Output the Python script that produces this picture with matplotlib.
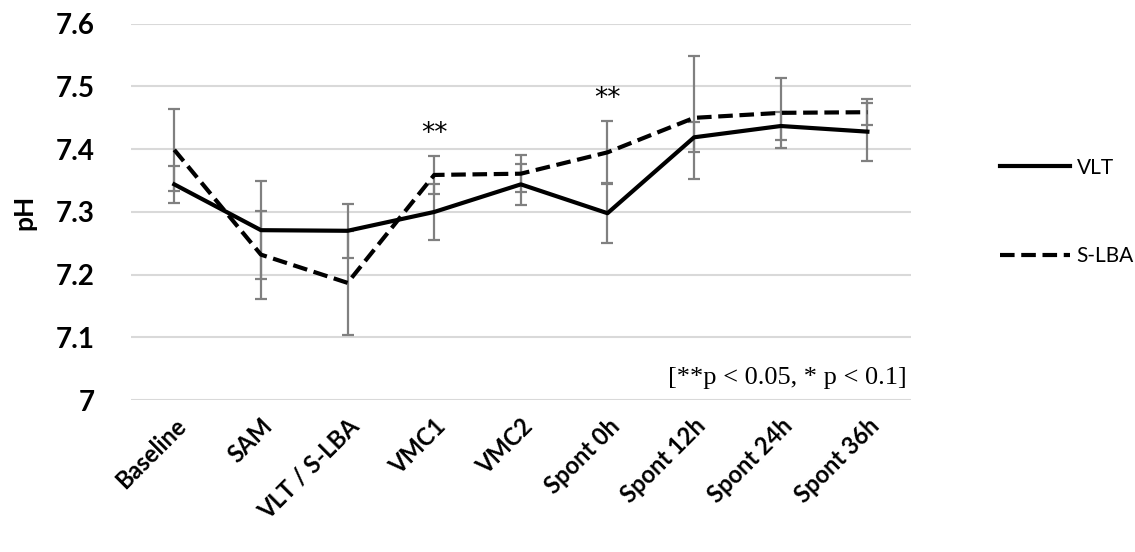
import matplotlib
matplotlib.use("Agg")
import matplotlib.pyplot as plt
from matplotlib.lines import Line2D
import numpy as np

# data
categories = ["Baseline", "SAM", "VLT / S-LBA", "VMC1", "VMC2",
              "Spont 0h", "Spont 12h", "Spont 24h", "Spont 36h"]
vlt_mean = [7.344, 7.271, 7.270, 7.300, 7.344, 7.298, 7.419, 7.437, 7.428]
vlt_err = [0.030, 0.078, 0.043, 0.045, 0.033, 0.048, 0.024, 0.022, 0.046]
slba_mean = [7.399, 7.232, 7.187, 7.359, 7.361, 7.395, 7.450, 7.458, 7.459]
slba_err = [0.065, 0.070, 0.083, 0.030, 0.029, 0.050, 0.098, 0.056, 0.021]
yticks = [7.0, 7.1, 7.2, 7.3, 7.4, 7.5, 7.6]
ytick_labels = ["7", "7.1", "7.2", "7.3", "7.4", "7.5", "7.6"]
sig_marks = {"VMC1": "**", "Spont 0h": "**"}

plt.rcParams['font.family'] = ['Lato', 'DejaVu Sans']

fig = plt.figure(figsize=(11.35, 5.52), dpi=100)
ax = fig.add_axes([0.1154, 0.275, 0.687, 0.682])

x = np.arange(len(categories))
err_style = dict(ecolor='#808080', elinewidth=1.6, capsize=4.5, capthick=1.6)
dash = (0, (3.5, 1.6))

ax.errorbar(x, vlt_mean, yerr=vlt_err, color='black', lw=3, zorder=3, **err_style)
ax.errorbar(x, slba_mean, yerr=slba_err, color='black', lw=3, ls=dash,
            zorder=3, **err_style)

# significance stars above the highest error bar
for name, mark in sig_marks.items():
    i = categories.index(name)
    top = max(vlt_mean[i] + vlt_err[i], slba_mean[i] + slba_err[i])
    ax.text(i, top + 0.015, mark, ha='center', va='bottom', fontsize=19,
            family='DejaVu Sans')

ax.text(0.995, 0.03, "[**p < 0.05, * p < 0.1]", transform=ax.transAxes,
        ha='right', va='bottom', fontsize=19, family='Liberation Serif')

ax.set_xlim(-0.5, len(categories) - 0.5)
ax.set_ylim(7.0, 7.6)
ax.set_yticks(yticks)
ax.set_yticklabels(ytick_labels, fontsize=20, fontweight='bold')
ax.set_xticks(x)
ax.set_xticklabels(categories, rotation=45, ha='right', rotation_mode='anchor',
                   fontsize=17, fontweight='bold')
ax.tick_params(length=0)
ax.tick_params(axis='y', pad=26)
ax.tick_params(axis='x', pad=10)
ax.set_ylabel("pH", fontsize=19, fontweight='bold', labelpad=14)

ax.grid(axis='y', color='#d9d9d9', lw=1.5)
ax.set_axisbelow(True)
for s in ax.spines.values():
    s.set_visible(False)

handles = [Line2D([], [], color='black', lw=3),
           Line2D([], [], color='black', lw=3, ls=dash)]
ax.legend(handles, ["VLT", "S-LBA"], loc='center left',
          bbox_to_anchor=(1.09, 0.5), frameon=False, fontsize=15,
          handlelength=3.4, labelspacing=3.3, handletextpad=0.3)

fig.savefig("out.png", dpi=100)
